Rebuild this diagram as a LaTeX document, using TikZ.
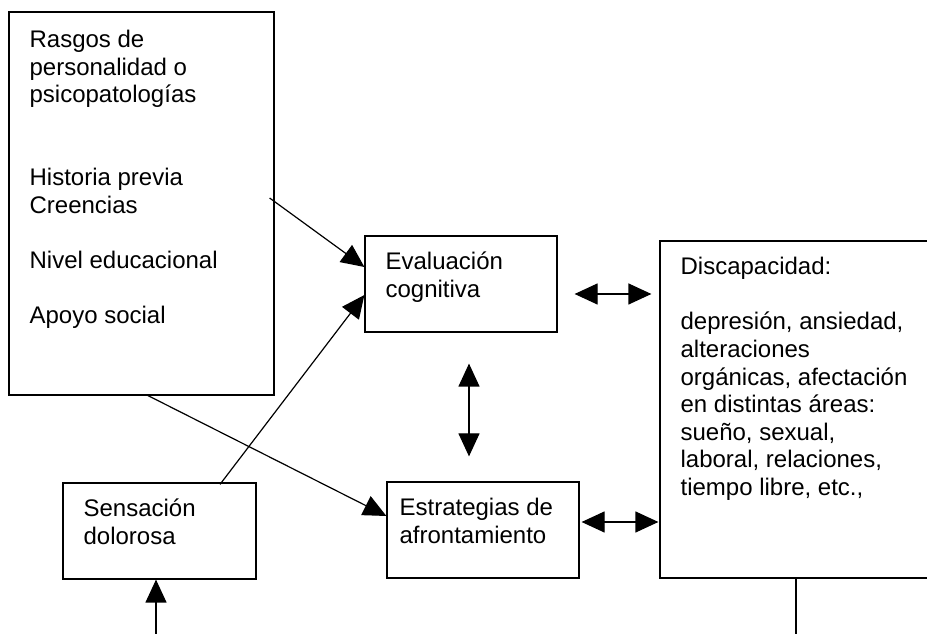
\documentclass[tikz,border=0pt]{standalone}
\usepackage{fontspec}
\setmainfont{Liberation Sans}
\usetikzlibrary{positioning,arrows.meta}

\begin{document}
\begin{tikzpicture}
[x=1pt,y=1pt,
caja/.style={draw,line width=1.2pt,inner sep=0pt},
txt/.style={inner sep=0pt,align=left,font=\fontsize{24}{27.6}\selectfont},
flecha/.style={line width=1.2pt,-{Triangle[length=23pt,width=21pt]}},
doble/.style={line width=1.2pt,{Triangle[length=23pt,width=21pt]}-{Triangle[length=23pt,width=21pt]}}]
\useasboundingbox (0,0) rectangle (927,634);
%%%%% CAJAS
\node[caja,minimum width=265pt,minimum height=383pt] (rasgos) at (141.5,430.5) {};
\node[caja,minimum width=192pt,minimum height=96pt] (eval) at (461,350) {};
\node[caja,minimum width=192pt,minimum height=96pt] (estr) at (483,104) {};
\node[caja,minimum width=193pt,minimum height=96pt] (sens) at (159.5,103) {};
\node[caja,minimum width=272pt,minimum height=337pt] (disc) at (796,224.5) {};
%%%%% TEXTOS
\node[txt,below right=16.5pt and 21pt of rasgos.north west] (trasgos)
{\strut Rasgos de\\personalidad o\\psicopatologías\\[55.2pt]Historia previa\\Creencias\\[27.6pt]Nivel educacional\\[27.6pt]Apoyo social};
\node[txt,below right=14.7pt and 21pt of eval.north west] (teval) {\strut Evaluación\\cognitiva};
\node[txt,below right=14.7pt and 13pt of estr.north west] (testr) {\strut Estrategias de\\afrontamiento};
\node[txt,below right=14.7pt and 21pt of sens.north west] (tsens) {\strut Sensación\\dolorosa};
\node[txt,below right=14.7pt and 21pt of disc.north west] (tdisc)
{\strut Discapacidad:\\[27.6pt]depresión, ansiedad,\\alteraciones\\orgánicas, afectación\\en distintas áreas:\\sueño, sexual,\\laboral, relaciones,\\tiempo libre, etc.,};
%%%%% FLECHAS
\draw[flecha] ([shift={(-5,5.5)}]rasgos.east) -- ([yshift=17]eval.west);
\draw[flecha] ([shift={(60.5,-2)}]sens.north) -- ([yshift=-11]eval.west);
\draw[flecha] ([xshift=6.5]rasgos.south) -- ([yshift=14]estr.west);
\coordinate (a1) at ([shift={(17,-10)}]eval.east);
\draw[doble] (a1) -- ([xshift=-8]disc.west |- a1);
\coordinate (a2) at ([shift={(2,8)}]estr.east);
\draw[doble] (a2) -- ([xshift=-1]disc.west |- a2);
\coordinate (v1) at ([shift={(8,-31)}]eval.south);
\draw[doble] (v1) -- ([yshift=25]v1 |- estr.north);
\coordinate (entrada) at (156,-1);
\draw[flecha] (entrada) -- (entrada |- sens.south);
\coordinate (salida) at (796,-1);
\draw[line width=1.2pt] (disc.south) -- (salida);
\end{tikzpicture}
\end{document}
